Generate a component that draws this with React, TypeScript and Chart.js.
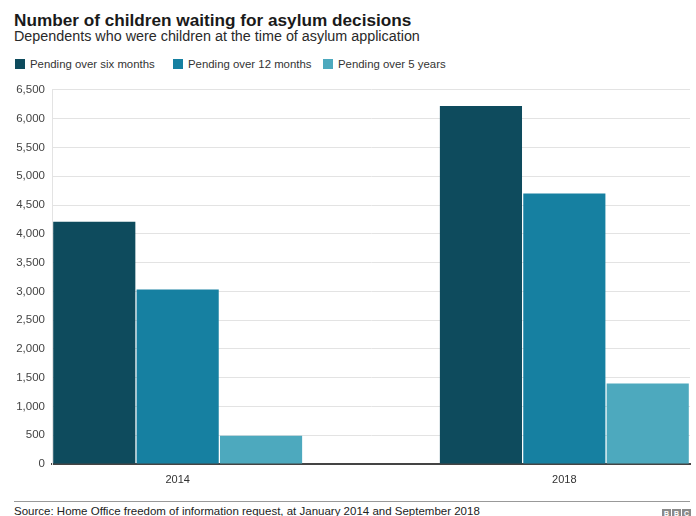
import React, { useEffect, useRef } from "react";
import { Chart, registerables } from "chart.js";

Chart.register(...registerables);

const categories = ["2014", "2018"];
const seriesNames = ["Pending over six months", "Pending over 12 months", "Pending over 5 years"];
const sixMonths = [4210, 6220];
const twelveMonths = [3030, 4700];
const fiveYears = [490, 1400];
const seriesColors = ["#0e4b5d", "#1680a1", "#4da9be"];
const yTicks = [0, 500, 1000, 1500, 2000, 2500, 3000, 3500, 4000, 4500, 5000, 5500, 6000, 6500];

const FONT = "'Liberation Sans', Arial, Helvetica, sans-serif";

export default function App() {
  const canvasRef = useRef<HTMLCanvasElement | null>(null);

  useEffect(() => {
    const canvas = canvasRef.current;
    if (!canvas) return;
    Chart.defaults.font.family = FONT;
    const seriesValues = [sixMonths, twelveMonths, fiveYears];
    const chart = new Chart(canvas, {
      type: "bar",
      data: {
        datasets: seriesValues.map((vals, si) => ({
          label: seriesNames[si],
          data: vals.map((v, i) => ({ x: i, y: v })),
          backgroundColor: seriesColors[si],
          borderWidth: 0,
          barPercentage: 0.985,
          categoryPercentage: 0.647,
        })),
      },
      options: {
        animation: false,
        responsive: false,
        maintainAspectRatio: false,
        layout: { padding: { left: 0, right: 6, top: 5, bottom: 0 } },
        plugins: {
          legend: { display: false },
          title: { display: false },
          tooltip: { enabled: false },
        },
        scales: {
          x: {
            type: "linear",
            offset: false,
            min: -0.325,
            max: 1.325,
            grid: { display: false, drawTicks: false, offset: false },
            border: { display: true, color: "#444", width: 2 },
            afterBuildTicks: (scale: any) => {
              scale.ticks = categories.map((_, i) => ({ value: i }));
            },
            afterFit: (scale: any) => {
              scale.height = 36;
            },
            ticks: {
              padding: 9,
              color: "#333",
              font: { size: 11 },
              callback: (v: any) => categories[Math.round(Number(v))] ?? "",
            },
          },
          y: {
            min: 0,
            max: 6500,
            afterBuildTicks: (scale: any) => {
              scale.ticks = yTicks.map((v) => ({ value: v }));
            },
            afterFit: (scale: any) => {
              scale.width = 52;
            },
            grid: { color: "#e3e3e3", drawTicks: false, lineWidth: 1 },
            border: { display: true, color: "#e3e3e3" },
            ticks: {
              padding: 7,
              color: "#444",
              font: { size: 11.5 },
              callback: (v: any) => Number(v).toLocaleString("en-US"),
            },
          },
        },
      },
    });
    return () => chart.destroy();
  }, []);

  const legendLefts = [15, 173, 323];

  return (
    <div
      style={{
        position: "absolute",
        left: 0,
        top: 0,
        width: 696,
        height: 516,
        background: "#fff",
        fontFamily: FONT,
        overflow: "hidden",
      }}
    >
      <div
        style={{
          position: "absolute",
          left: 14,
          top: 12,
          fontSize: 17.2,
          lineHeight: "17px",
          fontWeight: "bold",
          color: "#1a1a1a",
          whiteSpace: "nowrap",
        }}
      >
        Number of children waiting for asylum decisions
      </div>
      <div
        style={{
          position: "absolute",
          left: 14,
          top: 29,
          fontSize: 14.35,
          lineHeight: "14px",
          color: "#2a2a2a",
          whiteSpace: "nowrap",
        }}
      >
        Dependents who were children at the time of asylum application
      </div>
      {seriesNames.map((name, i) => (
        <div
          key={name}
          style={{
            position: "absolute",
            left: legendLefts[i],
            top: 57,
            height: 13,
            display: "flex",
            alignItems: "center",
            whiteSpace: "nowrap",
          }}
        >
          <span
            style={{
              display: "inline-block",
              width: 10,
              height: 10,
              background: seriesColors[i],
              marginRight: 5,
            }}
          />
          <span style={{ fontSize: 11.4, color: "#333" }}>{name}</span>
        </div>
      ))}
      <canvas
        ref={canvasRef}
        width={696}
        height={424}
        style={{ position: "absolute", left: 0, top: 76, width: 696, height: 424 }}
      />
      <div
        style={{
          position: "absolute",
          left: 14,
          top: 501,
          width: 676,
          height: 1,
          background: "#999",
        }}
      />
      <div
        style={{
          position: "absolute",
          left: 14,
          top: 506,
          fontSize: 11.5,
          lineHeight: "11px",
          color: "#222",
          whiteSpace: "nowrap",
        }}
      >
        Source: Home Office freedom of information request, at January 2014 and September 2018
      </div>
      <div style={{ position: "absolute", left: 662, top: 509, display: "flex", gap: 1 }}>
        {["B", "B", "C"].map((c, i) => (
          <span
            key={i}
            style={{
              width: 9,
              height: 9,
              background: "#8a8a8a",
              color: "#fff",
              fontSize: 7,
              lineHeight: "9px",
              fontWeight: "bold",
              textAlign: "center",
              display: "inline-block",
            }}
          >
            {c}
          </span>
        ))}
      </div>
    </div>
  );
}
